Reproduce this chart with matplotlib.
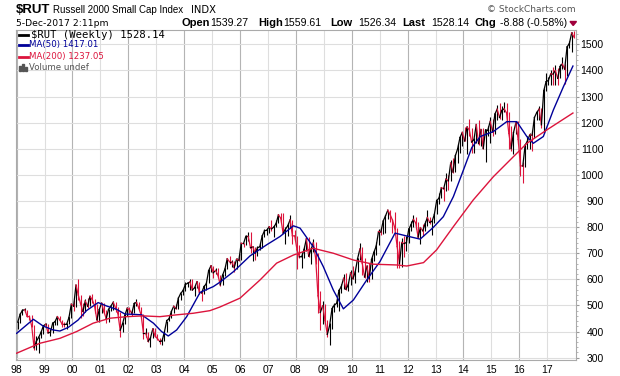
import numpy as np
import matplotlib
matplotlib.use("Agg")
import matplotlib.pyplot as plt
from matplotlib.patches import Rectangle, Polygon

# monthly bars of $RUT, Jan 1998 .. Dec 2017
rut_close = [
    436, 466, 481, 484, 458, 457, 420, 338, 363, 378, 397, 422,
    428, 395, 397, 432, 438, 457, 445, 429, 427, 428, 454, 505,
    497, 578, 540, 506, 477, 517, 497, 535, 522, 498, 445, 484,
    509, 476, 450, 485, 497, 512, 491, 470, 405, 429, 462, 489,
    483, 470, 507, 512, 490, 463, 393, 393, 363, 375, 410, 383,
    373, 362, 364, 398, 442, 449, 477, 497, 488, 528, 546, 557,
    580, 585, 590, 559, 568, 591, 551, 548, 572, 583, 633, 652,
    625, 634, 616, 579, 616, 639, 679, 667, 667, 645, 677, 673,
    738, 737, 765, 765, 721, 724, 700, 721, 725, 766, 786, 788,
    801, 793, 800, 814, 847, 834, 777, 792, 805, 828, 767, 766,
    713, 686, 687, 714, 755, 689, 714, 740, 680, 537, 473, 499,
    443, 389, 423, 487, 501, 508, 557, 572, 604, 562, 579, 625,
    602, 628, 679, 716, 662, 609, 650, 602, 676, 703, 727, 783,
    781, 823, 843, 865, 848, 827, 797, 726, 660, 741, 737, 741,
    792, 810, 830, 816, 762, 798, 786, 812, 837, 818, 822, 849,
    902, 911, 951, 947, 984, 977, 1045, 1011, 1073, 1100, 1143, 1163,
    1130, 1183, 1173, 1126, 1135, 1193, 1120, 1174, 1101, 1173, 1173, 1205,
    1165, 1233, 1252, 1220, 1247, 1253, 1238, 1159, 1101, 1162, 1199, 1136,
    1035, 1034, 1114, 1130, 1154, 1152, 1220, 1239, 1252, 1192, 1322, 1357,
    1362, 1387, 1386, 1400, 1370, 1415, 1425, 1405, 1490, 1503, 1544, 1528,
]
rut_high = [
    442, 468, 485, 491, 484, 465, 465, 424, 382, 379, 404, 425,
    434, 430, 408, 437, 441, 458, 460, 446, 438, 433, 456, 505,
    520, 578, 600, 540, 510, 523, 528, 538, 544, 523, 505, 488,
    511, 509, 482, 487, 498, 517, 513, 493, 475, 435, 466, 493,
    495, 484, 512, 523, 513, 494, 466, 412, 398, 380, 413, 414,
    391, 376, 375, 400, 442, 461, 478, 498, 507, 530, 549, 562,
    590, 590, 601, 601, 575, 592, 591, 555, 580, 588, 638, 655,
    652, 645, 644, 618, 619, 643, 680, 688, 674, 671, 682, 692,
    739, 741, 770, 782, 781, 728, 725, 726, 740, 767, 792, 797,
    804, 829, 808, 828, 850, 856, 856, 800, 815, 846, 828, 790,
    766, 730, 705, 725, 761, 764, 722, 753, 744, 700, 557, 516,
    505, 446, 433, 496, 509, 530, 563, 583, 620, 625, 590, 635,
    650, 631, 681, 741, 722, 680, 655, 661, 685, 713, 744, 792,
    800, 829, 845, 860, 866, 831, 859, 797, 747, 760, 765, 765,
    796, 822, 846, 837, 820, 799, 812, 825, 864, 840, 826, 852,
    902, 929, 953, 953, 1008, 1001, 1057, 1063, 1082, 1117, 1148, 1165,
    1182, 1186, 1213, 1180, 1140, 1194, 1209, 1176, 1180, 1175, 1187, 1220,
    1215, 1236, 1266, 1276, 1265, 1278, 1274, 1242, 1186, 1165, 1205, 1205,
    1136, 1050, 1115, 1150, 1160, 1170, 1222, 1246, 1264, 1257, 1332, 1392,
    1374, 1400, 1414, 1420, 1410, 1425, 1450, 1426, 1492, 1513, 1548, 1552,
]
rut_low = [
    411, 434, 463, 476, 456, 443, 419, 330, 330, 318, 374, 391,
    418, 393, 382, 394, 424, 426, 443, 418, 417, 410, 428, 450,
    478, 493, 521, 453, 460, 473, 492, 498, 508, 472, 440, 437,
    470, 470, 434, 438, 480, 482, 476, 464, 378, 398, 428, 459,
    471, 460, 470, 498, 482, 451, 372, 381, 360, 340, 374, 379,
    369, 354, 350, 364, 398, 440, 450, 470, 485, 488, 520, 540,
    556, 570, 560, 559, 535, 565, 545, 516, 545, 561, 585, 627,
    605, 622, 609, 575, 577, 614, 639, 660, 647, 627, 640, 670,
    673, 722, 730, 745, 700, 671, 675, 690, 712, 720, 763, 770,
    777, 787, 764, 800, 814, 820, 776, 735, 766, 797, 736, 750,
    640, 680, 643, 680, 710, 686, 658, 706, 660, 470, 406, 430,
    438, 380, 349, 410, 475, 495, 480, 547, 563, 560, 555, 580,
    600, 587, 628, 675, 616, 605, 588, 590, 600, 670, 693, 730,
    770, 775, 779, 833, 818, 777, 790, 645, 645, 648, 686, 708,
    739, 785, 801, 791, 759, 737, 766, 784, 806, 812, 770, 816,
    850, 890, 912, 899, 940, 941, 978, 1008, 1012, 1045, 1085, 1110,
    1128, 1080, 1150, 1085, 1083, 1122, 1114, 1111, 1100, 1051, 1150, 1124,
    1150, 1155, 1210, 1215, 1210, 1240, 1200, 1100, 1090, 1080, 1155, 1120,
    996, 970, 1030, 1100, 1100, 1090, 1140, 1210, 1212, 1180, 1160, 1320,
    1345, 1345, 1345, 1345, 1345, 1370, 1405, 1350, 1380, 1485, 1470, 1526,
]

# moving averages (decimal year, value)
ma50_t = [1998.0, 1998.6, 1998.95, 1999.31, 1999.55, 1999.85, 2000.2, 2000.5, 2000.92,
          2001.22, 2001.58, 2001.88, 2002.18, 2002.48, 2002.9, 2003.19, 2003.43, 2003.73,
          2004.09, 2004.57, 2005.04, 2005.28, 2005.76, 2006.36, 2006.95, 2007.43, 2007.91,
          2008.15, 2008.62, 2008.98, 2009.34, 2009.7, 2010.06, 2010.54, 2011.01, 2011.55,
          2011.97, 2012.45, 2012.92, 2013.28, 2013.64, 2014.0, 2014.3, 2014.6, 2015.07,
          2015.55, 2015.91, 2016.27, 2016.5, 2016.86, 2017.22, 2017.58, 2017.92]
ma50_v = [393, 447, 421, 406, 402, 416, 444, 480, 511,
          498, 485, 467, 466, 464, 432, 400, 383, 406,
          457, 550, 572, 589, 629, 690, 732, 764, 805,
          796, 725, 649, 559, 487, 521, 598, 668, 777,
          766, 754, 799, 840, 917, 1019, 1105, 1147, 1166,
          1204, 1204, 1147, 1121, 1147, 1249, 1338, 1417]

ma200_t = [1998.0, 1998.83, 1999.55, 2000.15, 2000.74, 2001.34, 2001.94, 2002.53, 2003.13,
           2003.73, 2004.32, 2004.92, 2005.28, 2006.0, 2006.72, 2007.31, 2007.91, 2008.62,
           2009.34, 2010.06, 2010.77, 2011.61, 2011.97, 2012.57, 2013.04, 2013.64, 2014.35,
           2015.07, 2015.79, 2016.27, 2016.98, 2017.92]
ma200_v = [317, 355, 374, 400, 432, 451, 457, 460, 457,
           464, 470, 480, 494, 528, 598, 662, 693, 719,
           700, 674, 658, 655, 651, 664, 713, 802, 904,
           993, 1070, 1121, 1172, 1237]

years = list(range(1998, 2018))
year_labels = ["%02d" % (y % 100) for y in years]
y_ticks = list(range(300, 1600, 100))

RED = "#dc143c"
BLUE = "#000099"
W, H = 620, 376

fig = plt.figure(figsize=(6.2, 3.76), dpi=100)
ax = fig.add_axes([15.5 / W, 1 - 360 / H, (576 - 15.5) / W, (360 - 29.5) / H])

t = 1998 + (np.arange(len(rut_close)) + 0.5) / 12.0
close = np.array(rut_close)
up = np.r_[True, close[1:] >= close[:-1]]
cols = np.where(up, "black", RED)

# high-low bars and connecting close line
ax.vlines(t, rut_low, rut_high, colors=cols, lw=0.8, zorder=3)
for i in range(1, len(close)):
    ax.plot(t[i - 1:i + 1], close[i - 1:i + 1], color=cols[i], lw=0.9, zorder=3)

ax.plot(ma50_t, ma50_v, color=BLUE, lw=1.0, zorder=4)
ax.plot(ma200_t, ma200_v, color=RED, lw=1.0, zorder=4)

ax.set_xlim(1997.96, 2018.03)
ax.set_ylim(291, 1557)

for y in years:
    ax.axvline(y, color="#b4b4b4" if y % 2 == 0 else "#dedede", lw=0.8, zorder=1)
for v in y_ticks:
    ax.axhline(v, color="#dedede", lw=0.8, zorder=1)

ax.set_xticks(years)
ax.set_xticklabels(year_labels, fontsize=7.5, family="Liberation Sans")
ax.tick_params(axis="x", length=0, pad=3.5)
ax.yaxis.tick_right()
ax.set_yticks(y_ticks)
ax.set_yticklabels([str(v) for v in y_ticks], fontsize=7.5, family="Liberation Sans", ha="right")
ax.set_yticks(np.arange(300, 1560, 20), minor=True)
ax.tick_params(axis="y", which="major", length=2.5, color="#999999", pad=17.5)
ax.tick_params(axis="y", which="minor", length=1.5, color="#aaaaaa")
for s in ax.spines.values():
    s.set_color("#aaaaaa")
    s.set_linewidth(0.8)


def ft(px, py, s, va="baseline", **kw):
    fig.text(px / W, 1 - py / H, s, va=va, **kw)


# header
ft(16, 13.3, "$RUT", fontsize=9.5, fontweight="bold", family="Liberation Sans")
ft(53, 12.7, "Russell 2000 Small Cap Index", fontsize=7, family="Liberation Sans")
ft(190.5, 12.7, "INDX", fontsize=7.2, family="DejaVu Sans")
ft(16, 26, "5-Dec-2017 2:11pm", fontsize=6.7, family="DejaVu Sans")
ft(576, 9, "\u00a9 StockCharts.com", va="center", fontsize=6.5, color="#555555", ha="right",
   family="DejaVu Sans")
head = [(181, "Open", True), (210.5, "1539.27", False), (258, "High", True), (283.5, "1559.61", False),
        (330.5, "Low", True), (358, "1526.34", False), (402.5, "Last", True), (431, "1528.14", False),
        (474.5, "Chg", True), (499.5, "-8.88 (-0.58%)", False)]
for px, s, bold in head:
    ft(px, 26.3, s, fontsize=8 if bold else 7.6, fontweight="bold" if bold else "normal",
       family="Liberation Sans")
fig.patches.append(Polygon([[570 / W, 1 - 21.5 / H], [576.5 / W, 1 - 21.5 / H], [573.2 / W, 1 - 25.5 / H]],
                           closed=True, transform=fig.transFigure, color="#a0003c", figure=fig))

# legend block
leg = [(35, "$RUT (Weekly) 1528.14", "black", 7.6, "DejaVu Sans Mono"),
       (45, "MA(50) 1417.01", BLUE, 6.2, "DejaVu Sans"),
       (57, "MA(200) 1237.05", RED, 6.2, "DejaVu Sans")]
for py, s, c, fs, fam in leg:
    fig.add_artist(plt.Line2D([19 / W, 27.5 / W], [1 - py / H, 1 - py / H], color=c, lw=2,
                              transform=fig.transFigure))
    ft(29.5 if fam == "DejaVu Sans" else 31, py, s, va="center", fontsize=fs, color=c, family=fam)
for i, hgt in enumerate([5, 7, 4]):
    fig.patches.append(Rectangle(((19.5 + i * 2.8) / W, 1 - 71 / H), 2 / W, hgt / H,
                                 transform=fig.transFigure, color="#555555", figure=fig))
ft(29.5, 67.7, "Volume undef", va="center", fontsize=6.2, color="#555555", family="DejaVu Sans")

fig.savefig("out.png", dpi=100)
